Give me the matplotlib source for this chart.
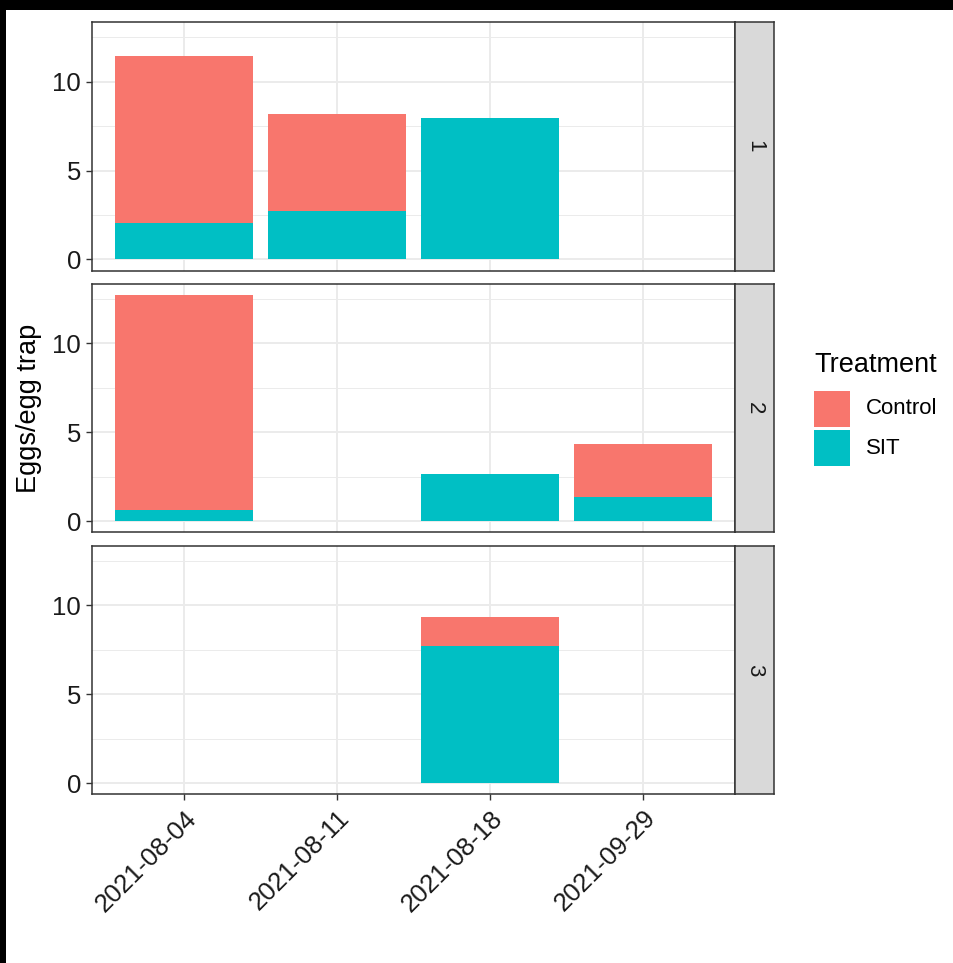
import matplotlib
matplotlib.use("Agg")
import matplotlib.pyplot as plt
from matplotlib.patches import Rectangle
import numpy as np

plt.rcParams['font.family'] = ['Liberation Sans', 'DejaVu Sans']

# Data: mean eggs per egg trap, by site (facet), date and treatment
dates = ['2021-08-04', '2021-08-11', '2021-08-18', '2021-09-29']
sites = ['1', '2', '3']
treatments = ['Control', 'SIT']
sit_values = [
    [2.02, 2.75, 7.98, 0.0],
    [0.62, 0.0, 2.64, 1.35],
    [0.0, 0.0, 7.70, 0.0],
]
control_values = [
    [9.40, 5.45, 0.0, 0.0],
    [12.08, 0.0, 0.0, 2.98],
    [0.0, 0.0, 1.63, 0.0],
]
colors = {'Control': '#F8766D', 'SIT': '#00BFC4'}

W, H = 954, 963
fig = plt.figure(figsize=(W / 100, H / 100), dpi=100)
fig.patch.set_facecolor('white')


def rect(x0, y0, x1, y1):
    """Pixel box (top-left origin) to figure fraction rect."""
    return [x0 / W, 1 - y1 / H, (x1 - x0) / W, (y1 - y0) / H]


# black frame strips along the top and left edge
fig.patches.append(Rectangle((0, 1 - 10 / H), 1, 10 / H, transform=fig.transFigure,
                             facecolor='black', edgecolor='none', zorder=10))
fig.patches.append(Rectangle((0, 0), 6 / W, 1, transform=fig.transFigure,
                             facecolor='black', edgecolor='none', zorder=10))

sit_arr = np.array(sit_values)
ctl_arr = np.array(control_values)
totals = sit_arr + ctl_arr
ymax = totals.max()
ylo, yhi = -0.05 * ymax, ymax * 1.05

panel_tops = [22.3, 284.0, 546.0]
panel_h = 248.4
x_left, x_right, strip_right = 92.5, 735.0, 774.5
dark = '#333333'
xpos = np.arange(len(dates))

for i, site in enumerate(sites):
    top = panel_tops[i]
    ax = fig.add_axes(rect(x_left, top, x_right, top + panel_h))
    ax.set_facecolor('white')
    ax.set_xlim(-0.6, len(dates) - 1 + 0.6)
    ax.set_ylim(ylo, yhi)

    for j in range(len(dates)):
        s = sit_arr[i, j]
        c = ctl_arr[i, j]
        if s > 0:
            ax.bar(xpos[j], s, width=0.9, color=colors['SIT'], linewidth=0, zorder=3)
        if c > 0:
            ax.bar(xpos[j], c, width=0.9, bottom=s, color=colors['Control'],
                   linewidth=0, zorder=3)

    ax.set_yticks([0, 5, 10])
    ax.set_yticks([2.5, 7.5, 12.5], minor=True)
    ax.set_xticks(xpos)
    ax.grid(True, which='major', color='#EBEBEB', linewidth=1.4, zorder=0)
    ax.grid(True, which='minor', axis='y', color='#EBEBEB', linewidth=0.7, zorder=0)
    ax.set_axisbelow(True)
    ax.tick_params(axis='both', which='major', length=4.3, width=1.0, color=dark,
                   labelsize=18.5, labelcolor='#1A1A1A', pad=4)
    ax.tick_params(axis='y', which='minor', length=0)
    for sp in ax.spines.values():
        sp.set_color(dark)
        sp.set_linewidth(1.1)

    if i < len(sites) - 1:
        ax.tick_params(axis='x', which='major', labelbottom=False, length=0)
    else:
        ax.set_xticklabels(dates, rotation=45, ha='right', va='top',
                           rotation_mode='anchor')

    # facet strip on the right
    sax = fig.add_axes(rect(x_right, top, strip_right, top + panel_h))
    sax.set_facecolor('#D9D9D9')
    sax.set_xticks([])
    sax.set_yticks([])
    for sp in sax.spines.values():
        sp.set_color(dark)
        sp.set_linewidth(1.1)
    sax.text(0.5, 0.5, site, rotation=-90, ha='center', va='center',
             fontsize=16, color='#1A1A1A', transform=sax.transAxes)

# shared y-axis title
y_mid = (panel_tops[0] + panel_tops[-1] + panel_h) / 2
fig.text(29.5 / W, 1 - y_mid / H, 'Eggs/egg trap', rotation=90, ha='center',
         va='center', fontsize=19.5, color='black')

# legend
fig.text(814 / W, 1 - 372 / H, 'Treatment', ha='left', va='baseline',
         fontsize=19.5, color='black')
key_tops = [390.5, 430.0]
for t, ktop in zip(treatments, key_tops):
    fig.patches.append(Rectangle((814 / W, 1 - (ktop + 36) / H), 36 / W, 36 / H,
                                 transform=fig.transFigure, facecolor=colors[t],
                                 edgecolor='none'))
    fig.text(866 / W, 1 - (ktop + 18) / H, t, ha='left', va='center',
             fontsize=16, color='black')

fig.savefig('out.png', dpi=100, facecolor='white')
